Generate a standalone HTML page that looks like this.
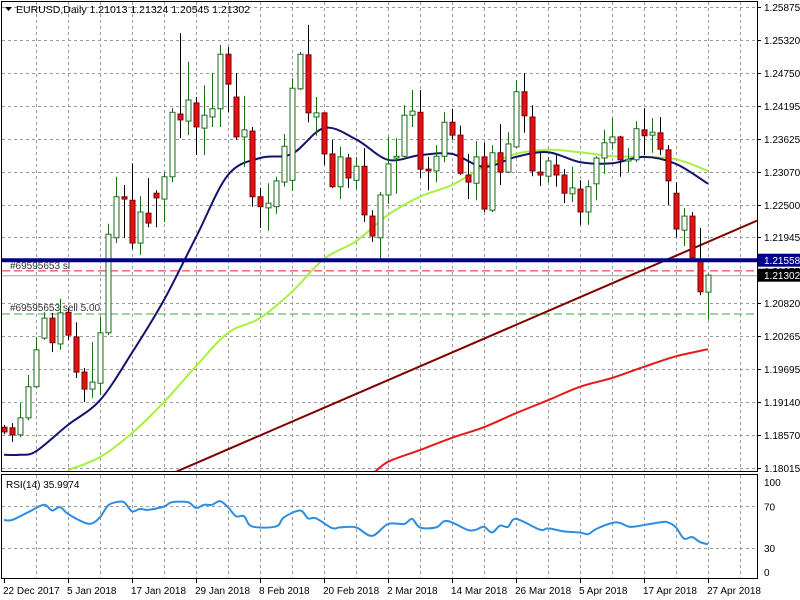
<!DOCTYPE html>
<html><head><meta charset="utf-8">
<style>
html,body{margin:0;padding:0;background:#fff;}
svg{display:block;font-family:"Liberation Sans",sans-serif;font-size:10px;}
</style></head>
<body>
<svg id="chart" width="800" height="600" xmlns="http://www.w3.org/2000/svg"></svg>
<script>
// ---- data ----
const opens=[1.1871,1.1870,1.1858,1.1887,1.1940,1.2023,1.2057,1.2013,1.2067,1.2025,1.1965,1.1936,1.1946,1.2032,1.2194,1.2264,1.2258,1.2185,1.2236,1.2270,1.2260,1.2298,1.2405,1.2393,1.2424,1.2381,1.2400,1.2414,1.2507,1.2434,1.2366,1.2376,1.2264,1.2245,1.2247,1.2289,1.2292,1.2448,1.2506,1.2400,1.2407,1.2337,1.2281,1.2330,1.2292,1.2316,1.2231,1.2194,1.2267,1.2330,1.2333,1.2403,1.2408,1.2311,1.2308,1.2333,1.2391,1.2369,1.2301,1.2287,1.2332,1.2241,1.2339,1.2306,1.2349,1.2443,1.2400,1.2306,1.2299,1.2318,1.2301,1.2269,1.2277,1.2238,1.2286,1.2330,1.2356,1.2366,1.2325,1.2327,1.2378,1.2369,1.2373,1.2344,1.2270,1.2207,1.2231,1.2156,1.21013];
const highs=[1.1875,1.1878,1.1912,1.1960,1.2025,1.2067,1.2066,1.2090,1.2074,1.2050,1.1972,1.2016,1.2059,1.2218,1.2298,1.2284,1.2321,1.2265,1.2296,1.2275,1.2306,1.2415,1.2543,1.2494,1.2434,1.2454,1.2475,1.2523,1.2519,1.2475,1.2436,1.2383,1.2279,1.2287,1.2298,1.2371,1.2466,1.2511,1.2557,1.2434,1.2408,1.2361,1.2349,1.2337,1.2332,1.2347,1.2241,1.2272,1.2366,1.2364,1.2420,1.2446,1.2446,1.2332,1.2352,1.2408,1.2414,1.2385,1.2337,1.2359,1.2356,1.2352,1.2388,1.2374,1.2463,1.2475,1.2420,1.2339,1.2332,1.2335,1.2311,1.2315,1.2292,1.2292,1.2333,1.2378,1.2398,1.2368,1.2347,1.2393,1.2415,1.2398,1.2400,1.2352,1.2289,1.2245,1.2238,1.2211,1.21324];
const lows=[1.1859,1.1846,1.1854,1.1883,1.1938,1.2020,1.1999,1.2003,1.2020,1.1955,1.1914,1.1921,1.1926,1.2028,1.2185,1.2194,1.2175,1.2165,1.2212,1.2212,1.2221,1.2289,1.2364,1.2369,1.2335,1.2335,1.2383,1.2383,1.2408,1.2361,1.2315,1.2247,1.2211,1.2206,1.2235,1.2281,1.2274,1.2446,1.2391,1.2368,1.2318,1.2279,1.2260,1.2279,1.2277,1.2221,1.2187,1.2156,1.2252,1.2269,1.2327,1.2383,1.2296,1.2275,1.2289,1.2323,1.2362,1.2301,1.2260,1.2258,1.2238,1.2238,1.2284,1.2304,1.2347,1.2373,1.2299,1.2282,1.2289,1.2281,1.2253,1.2255,1.2216,1.2216,1.2258,1.2303,1.2344,1.2298,1.2306,1.2323,1.2335,1.2339,1.2335,1.2250,1.2195,1.2180,1.2156,1.2096,1.20545];
const closes=[1.1863,1.1858,1.1887,1.1940,1.2003,1.2057,1.2015,1.2066,1.2028,1.1965,1.1936,1.1948,1.2032,1.2200,1.2264,1.2260,1.2185,1.2238,1.2219,1.2262,1.2298,1.2408,1.2395,1.2429,1.2383,1.2403,1.2414,1.2507,1.2456,1.2366,1.2378,1.2264,1.2247,1.2253,1.2291,1.2350,1.2449,1.2507,1.2407,1.2407,1.2337,1.2281,1.2332,1.2296,1.2316,1.2233,1.2197,1.2267,1.2320,1.2333,1.2403,1.2410,1.2311,1.2308,1.2333,1.2391,1.2369,1.2304,1.2289,1.2332,1.2243,1.2339,1.2306,1.2354,1.2443,1.2402,1.2308,1.2301,1.2325,1.2301,1.2270,1.2279,1.2238,1.2281,1.2330,1.2356,1.2366,1.2327,1.2328,1.2380,1.2368,1.2374,1.2345,1.2291,1.2209,1.2231,1.2160,1.2102,1.21302];
// moving averages sampled every 4 bars
const maNavyBars=[0,2,4,8,12,16,20,24,28,32,36,40,44,48,52,56,60,64,68,72,76,80,84,88];
const maNavy=[1.1824,1.1824,1.1830,1.1875,1.1917,1.1998,1.2088,1.2195,1.2301,1.2330,1.2337,1.2381,1.2362,1.2327,1.2335,1.2337,1.2315,1.2332,1.2340,1.2323,1.2321,1.2332,1.2320,1.2286];
const maLimeBars=[8,12,16,20,24,28,32,36,40,44,48,52,56,60,64,68,72,76,80,84,88];
const maLime=[1.1798,1.1820,1.1861,1.1914,1.1975,1.2032,1.2057,1.2102,1.2158,1.2188,1.2233,1.2264,1.2284,1.2315,1.2337,1.2344,1.2340,1.2333,1.2332,1.2328,1.2308];
const maRedBars=[46,48,52,56,60,64,68,72,76,80,84,88];
const maRed=[1.1790,1.1812,1.1832,1.1853,1.1871,1.1895,1.1917,1.1940,1.1955,1.1974,1.1992,1.2004];
const trendBars=[22,88];
const trendPrices=[1.1798,1.2187];
const priceTicks=[1.25875,1.25320,1.24750,1.24195,1.23625,1.23070,1.22500,1.21945,1.20820,1.20265,1.19695,1.19140,1.18570,1.18015];
const dateLabels=["22 Dec 2017","5 Jan 2018","17 Jan 2018","29 Jan 2018","8 Feb 2018","20 Feb 2018","2 Mar 2018","14 Mar 2018","26 Mar 2018","5 Apr 2018","17 Apr 2018","27 Apr 2018"];
const rsiBars=[0,1,3,5,6,7,8,10,11,12,13,14,15,16,17,18,20,21,23,24,25,26,27,28,29,30,31,34,35,37,38,39,41,42,44,46,48,50,51,52,54,55,56,58,59,60,61,62,63,64,67,68,70,72,73,74,76,77,78,79,82,83,84,85,86,87,88];
const rsiValues=[56.9,56.9,64.3,71.5,66,69.2,62.7,54.6,53.6,59.5,70.8,74,74,65.3,67.6,66.6,69.9,74,74,68.5,71.5,71.5,75.1,69.2,60.5,60.5,50.7,50.7,59.5,66,58.5,58.5,49.1,49.7,49.7,41.5,53,53,57.9,49.7,49.7,55.6,54.6,47.2,47.5,50.3,44.8,51.4,50.3,57.9,47.5,48.8,45.9,44.8,43.2,48.1,54,54,50.7,50.7,54.6,54.6,49.7,38.9,40.5,35.6,33.5,35];
const rsiLevels=[100,70,30,0];
const hLines={support:1.21558,sl:1.21375,bid:1.21302,entry:1.2064};

// ---- axes ----
const PLOT_R=757;
const xB=i=>4+8*i;
const yP=p=>7+(1.25875-p)*5865;
const yR=v=>579-v*1.0375;
const NS="http://www.w3.org/2000/svg";
const svg=document.getElementById('chart');
function mk(tag,attrs,parent){const e=document.createElementNS(NS,tag);for(const k in attrs)e.setAttribute(k,attrs[k]);(parent||svg).appendChild(e);return e;}
function smoothPath(pts){let d='M'+pts[0][0]+','+pts[0][1].toFixed(1);
 for(let i=0;i<pts.length-1;i++){const p0=pts[Math.max(0,i-1)],p1=pts[i],p2=pts[i+1],p3=pts[Math.min(pts.length-1,i+2)];
  const c1x=p1[0]+(p2[0]-p0[0])/6,c1y=p1[1]+(p2[1]-p0[1])/6,c2x=p2[0]-(p3[0]-p1[0])/6,c2y=p2[1]-(p3[1]-p1[1])/6;
  d+=' C'+c1x.toFixed(1)+','+c1y.toFixed(1)+' '+c2x.toFixed(1)+','+c2y.toFixed(1)+' '+p2[0]+','+p2[1].toFixed(1);}
 return d;}

const defs=mk('defs',{});
const cp=mk('clipPath',{id:'mainclip'},defs);mk('rect',{x:2,y:2,width:755,height:469},cp);
const cp2=mk('clipPath',{id:'rsiclip'},defs);mk('rect',{x:2,y:475,width:755,height:103},cp2);

// grid
const grid=mk('g',{stroke:'#9a9a9a','stroke-width':1,'stroke-dasharray':'3,3'});


for(let j=1;j<=23;j++){const x=4+32*j+0.5;if(x>PLOT_R)break;mk('line',{x1:x,y1:2,x2:x,y2:471},grid);mk('line',{x1:x,y1:475,x2:x,y2:578},grid);}
priceTicks.forEach(p=>{const y=Math.round(yP(p))+0.5;if(y>3&&y<470)mk('line',{x1:2,y1:y,x2:PLOT_R,y2:y},grid);});
[70,30].forEach(v=>{const y=Math.round(yR(v))+0.5;mk('line',{x1:2,y1:y,x2:PLOT_R,y2:y},grid);});

const main=mk('g',{'clip-path':'url(#mainclip)'});
let l=mk('line',{x1:2,y1:yP(hLines.bid)+0.5,x2:PLOT_R,y2:yP(hLines.bid)+0.5,stroke:'#a0a0a0','stroke-width':1},main);

l=mk('line',{x1:2,y1:yP(hLines.sl),x2:PLOT_R,y2:yP(hLines.sl),stroke:'#e02020','stroke-width':1,'stroke-dasharray':'8,4'},main);

l=mk('line',{x1:2,y1:yP(hLines.entry),x2:PLOT_R,y2:yP(hLines.entry),stroke:'#30b030','stroke-width':1,'stroke-dasharray':'8,4'},main);


let t=mk('text',{x:10,y:yP(hLines.sl)-2,fill:'#333'},main);t.textContent='#69595653 sl';

t=mk('text',{x:10,y:yP(hLines.entry)-3,fill:'#333'},main);t.textContent='#69595653 sell 5.00';


function curve(bars,vals,color,w,name,yf,parent){const pts=bars.map((b,i)=>[xB(b),yf(vals[i])]);
 const p=mk('path',{d:smoothPath(pts),fill:'none',stroke:color,'stroke-width':w,'stroke-linejoin':'round'},parent);
 }
curve(maRedBars,maRed,'#e81818',2,'ma-red-line',yP,main);
(function(){const x1=xB(trendBars[0]),x2=xB(trendBars[1]);const y1=yP(trendPrices[0]),y2=yP(trendPrices[1]);const s=(y2-y1)/(x2-x1);
 const tl=mk('line',{x1:x1-20,y1:y1-20*s,x2:PLOT_R,y2:y1+(PLOT_R-x1)*s,stroke:'#800000','stroke-width':2},main);
 })();
curve(maLimeBars,maLime,'#a8f040',2,'ma-lime-line',yP,main);
curve(maNavyBars,maNavy,'#14146e',2,'ma-navy-line',yP,main);

const cg=mk('g',{},main);

for(let i=0;i<opens.length;i++){
 const x=xB(i)+0.5,o=opens[i],c=closes[i],up=c>=o;
 const g=mk('g',{},cg);
 
 
 mk('line',{x1:x,y1:yP(highs[i]),x2:x,y2:yP(lows[i]),stroke:up?'#1a6a1a':'#000','stroke-width':1},g);
 const top=yP(Math.max(o,c)),bot=yP(Math.min(o,c));
 mk('rect',{x:x-2.5,y:top,width:5,height:Math.max(1,bot-top),fill:up?'#fff':'#e81010',stroke:up?'#1a6a1a':'#7a0000','stroke-width':1},g);
}
l=mk('line',{x1:2,y1:yP(hLines.support),x2:PLOT_R,y2:yP(hLines.support),stroke:'#00008b','stroke-width':4},main);


let b=mk('rect',{x:1.5,y:1.5,width:PLOT_R-1,height:470,fill:'none',stroke:'#000','stroke-width':1});

b=mk('rect',{x:1.5,y:474.5,width:PLOT_R-1,height:104,fill:'none',stroke:'#000','stroke-width':1});


t=mk('text',{x:16,y:13,fill:'#000','font-size':'10.5'});t.textContent='EURUSD,Daily  1.21013 1.21324 1.20545 1.21302';

let tri=mk('polygon',{points:'5,7 12,7 8.5,11',fill:'#000'});


priceTicks.forEach(p=>{const y=Math.round(yP(p));
 mk('line',{x1:PLOT_R,y1:y+0.5,x2:PLOT_R+4,y2:y+0.5,stroke:'#000'});
 const tx=mk('text',{x:764,y:y+4,fill:'#000','font-size':'10'});tx.textContent=p.toFixed(5);
 });
t=mk('text',{x:764,y:yP(hLines.sl)+4,fill:'#000','font-size':'10'});t.textContent=hLines.sl.toFixed(5);

let r=mk('rect',{x:758,y:yP(hLines.support)-6.5,width:42,height:13,fill:'#00008b'});

t=mk('text',{x:764,y:yP(hLines.support)+4,fill:'#fff','font-size':'10'});t.textContent=hLines.support.toFixed(5);

r=mk('rect',{x:758,y:yP(hLines.bid)-6.5,width:42,height:13,fill:'#000'});

t=mk('text',{x:764,y:yP(hLines.bid)+4,fill:'#fff','font-size':'10'});t.textContent=hLines.bid.toFixed(5);


const rg=mk('g',{'clip-path':'url(#rsiclip)'});
curve(rsiBars,rsiValues,'#2c8ee0',2,'rsi-line',yR,rg);
t=mk('text',{x:6,y:488,fill:'#000','font-size':'10'});t.textContent='RSI(14) 35.9974';

rsiLevels.forEach(v=>{let y=yR(v);if(v===100)y=482;if(v===0)y=572;
 const tx=mk('text',{x:764,y:y+4,fill:'#000','font-size':'10'});tx.textContent=String(v);
 });

dateLabels.forEach((d,j)=>{const x=4+64*j;
 mk('line',{x1:x+0.5,y1:579,x2:x+0.5,y2:583,stroke:'#000'});
 const tx=mk('text',{x:x-1,y:594,fill:'#000','font-size':'10'});tx.textContent=d;
 });
</script>
</body></html>
